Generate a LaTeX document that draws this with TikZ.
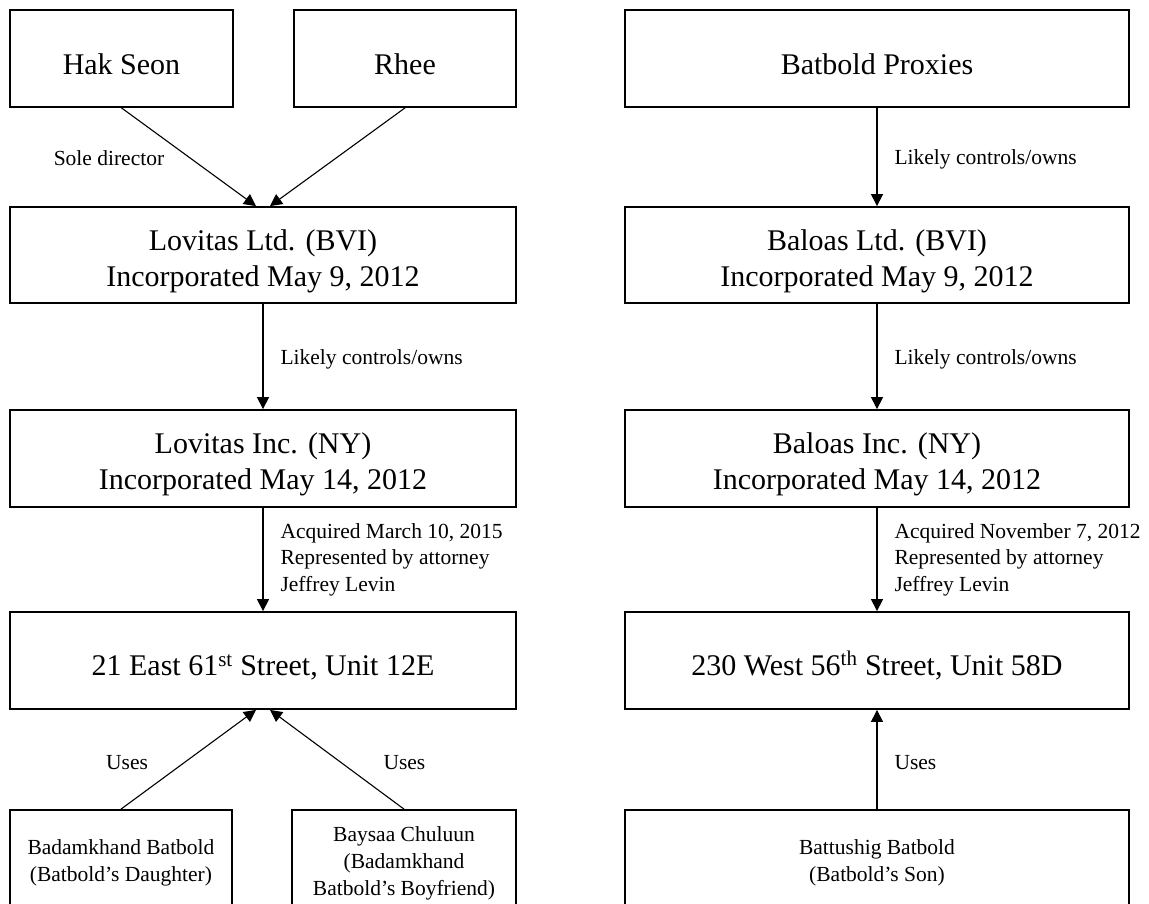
\documentclass[tikz,border=0pt]{standalone}
\usepackage{fontspec}
\setmainfont{Liberation Serif}
\usetikzlibrary{arrows.meta}
\begin{document}
\begin{tikzpicture}[x=1pt,y=-1pt,
  box/.style={draw, line width=1.8pt, inner sep=0pt},
  bigtxt/.style={align=center, inner sep=0pt, yshift=-6pt, font=\fontsize{30}{36}\selectfont},
  smalltxt/.style={align=center, inner sep=0pt, yshift=-3pt, font=\fontsize{21.5}{27}\selectfont},
  lbl/.style={font=\fontsize{21.5}{26.5}\selectfont, align=left, inner sep=0pt},
  arr/.style={-{Triangle[length=12pt,width=12pt]}, line width=1.1pt}]
\useasboundingbox (0,0) rectangle (1149,903);
% top row
\node[box, minimum width=223pt, minimum height=97pt, label={[bigtxt]center:Hak Seon}] (hak) at (121.5,58.5) {};
\node[box, minimum width=222pt, minimum height=97pt, label={[bigtxt]center:Rhee}] (rhee) at (405,58.5) {};
\node[box, minimum width=504pt, minimum height=97pt, label={[bigtxt]center:Batbold Proxies}] (prox) at (877,58.5) {};
% second row
\node[box, minimum width=506pt, minimum height=96pt, label={[bigtxt]center:{Lovitas Ltd. (BVI)\\Incorporated May 9, 2012}}] (lovltd) at (263,255) {};
\node[box, minimum width=504pt, minimum height=96pt, label={[bigtxt]center:{Baloas Ltd. (BVI)\\Incorporated May 9, 2012}}] (balltd) at (877,255) {};
% third row
\node[box, minimum width=506pt, minimum height=97pt, label={[bigtxt]center:{Lovitas Inc. (NY)\\Incorporated May 14, 2012}}] (lovinc) at (263,458.5) {};
\node[box, minimum width=504pt, minimum height=97pt, label={[bigtxt]center:{Baloas Inc. (NY)\\Incorporated May 14, 2012}}] (balinc) at (877,458.5) {};
% fourth row
\node[box, minimum width=506pt, minimum height=97pt, label={[bigtxt, yshift=-1pt]center:{21 East 61\textsuperscript{st} Street, Unit 12E}}] (east) at (263,660.5) {};
\node[box, minimum width=504pt, minimum height=97pt, label={[bigtxt, yshift=1pt]center:{230 West 56\textsuperscript{th} Street, Unit 58D}}] (west) at (877,660.5) {};
% bottom row
\node[box, minimum width=222pt, minimum height=100pt, label={[smalltxt]center:{Badamkhand Batbold\\(Batbold’s Daughter)}}] (bad) at (121,860) {};
\node[box, minimum width=224pt, minimum height=100pt, label={[smalltxt]center:{Baysaa Chuluun\\(Badamkhand\\Batbold’s Boyfriend)}}] (bay) at (404,860) {};
\node[box, minimum width=504pt, minimum height=100pt, label={[smalltxt]center:{Battushig Batbold\\(Batbold’s Son)}}] (bat) at (877,860) {};
% connectors
\draw[arr] (hak.south) -- node[lbl, pos=0.5, anchor=east, xshift=-24pt, yshift=-1pt] {Sole director} ([xshift=-7pt]lovltd.north);
\draw[arr] (rhee.south) -- ([xshift=7pt]lovltd.north);
\draw[arr] (prox.south) -- node[lbl, pos=0.5, anchor=west, xshift=17pt, yshift=-2pt] {Likely controls/owns} (balltd.north);
\draw[arr] (lovltd.south) -- node[lbl, pos=0.5, anchor=west, xshift=17pt, yshift=-3pt] {Likely controls/owns} (lovinc.north);
\draw[arr] (balltd.south) -- node[lbl, pos=0.5, anchor=west, xshift=17pt, yshift=-3pt] {Likely controls/owns} (balinc.north);
\draw[arr] (lovinc.south) -- node[lbl, pos=0.5, anchor=west, xshift=17pt] {Acquired March 10, 2015\\Represented by attorney\\Jeffrey Levin} (east.north);
\draw[arr] (balinc.south) -- node[lbl, pos=0.5, anchor=west, xshift=17pt] {Acquired November 7, 2012\\Represented by attorney\\Jeffrey Levin} (west.north);
\draw[arr] (bad.north) -- node[lbl, pos=0.5, anchor=east, xshift=-40pt, yshift=-3pt] {Uses} ([xshift=-7pt]east.south);
\draw[arr] (bay.north) -- node[lbl, pos=0.5, anchor=west, xshift=46pt, yshift=-3pt] {Uses} ([xshift=7pt]east.south);
\draw[arr] (bat.north) -- node[lbl, pos=0.5, anchor=west, xshift=17pt, yshift=-3pt] {Uses} (west.south);
\end{tikzpicture}
\end{document}
